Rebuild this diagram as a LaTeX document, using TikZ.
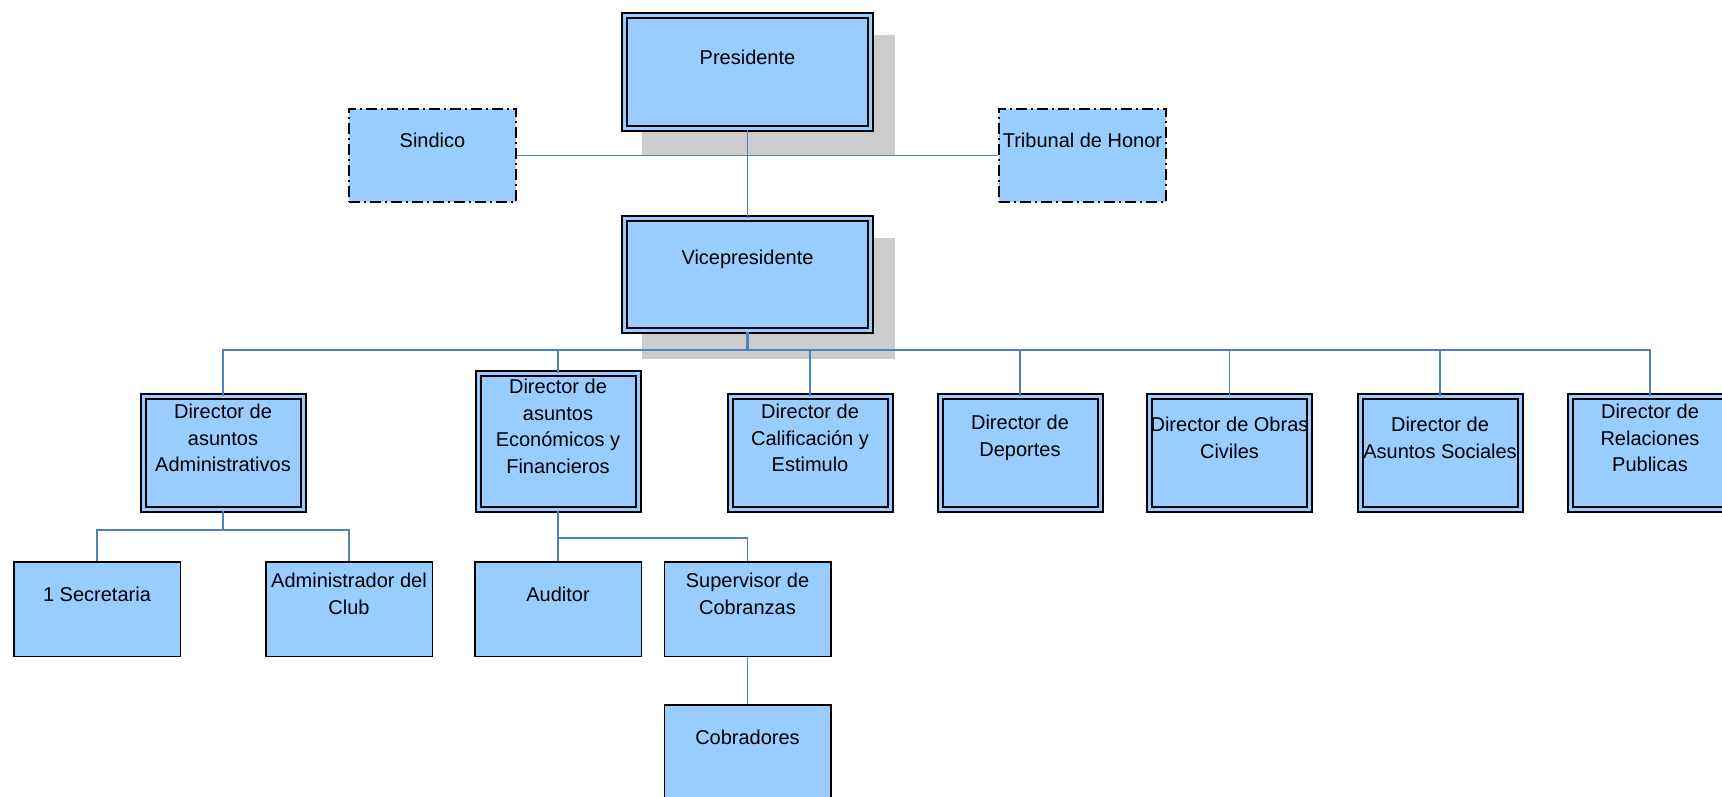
\documentclass[tikz,border=0pt]{standalone}
\usepackage{fontspec}
\setmainfont{Liberation Sans}
\definecolor{boxblue}{RGB}{153,204,255}
\definecolor{shadowgray}{RGB}{204,204,204}
\definecolor{linkblue}{RGB}{79,129,189}
\begin{document}
\begin{tikzpicture}[x=1pt,y=-1pt,
  every node/.style={font=\fontsize{20}{26.5}\selectfont},
  lbl/.style={yshift=15pt,align=center,inner sep=0pt},
  dbox/.style={draw=black,line width=2pt,double=boxblue,double distance=3pt,fill=boxblue,inner sep=0pt},
  sbox/.style={draw=black,line width=1.5pt,fill=boxblue,inner sep=0pt,minimum width=166.5pt,minimum height=94.5pt},
  ddbox/.style={draw=black,line width=1.8pt,dash pattern=on 11pt off 4pt on 2pt off 4pt,fill=boxblue,inner sep=0pt,minimum width=167pt,minimum height=93pt},
  dirbox/.style={dbox,minimum width=160pt,minimum height=113pt},
  link/.style={draw=linkblue,line width=1.5pt}]
\useasboundingbox (0,0) rectangle (1722,796);
% shadows
\fill[shadowgray] (642,35) rectangle (895,155);
\fill[shadowgray] (642,238) rectangle (895,359);
% top level
\node[dbox,minimum width=246pt,minimum height=113pt,label={[lbl]center:Presidente}] (pres) at (747.5,72) {};
\node[dbox,minimum width=246pt,minimum height=112pt,label={[lbl]center:Vicepresidente}] (vice) at (747.5,274.5) {};
\node[ddbox,label={[lbl]center:Sindico}] (sind) at (432.5,155.5) {};
\node[ddbox,label={[lbl]center:Tribunal de Honor}] (trib) at (1082.5,155.5) {};
% directors
\node[dirbox,label={[lbl]center:Director de\\asuntos\\Administrativos}] (dadm) at (223,453) {};
\node[dbox,minimum width=160pt,minimum height=136pt,label={[lbl]center:Director de\\asuntos\\Económicos y\\Financieros}] (deco) at (558,441.5) {};
\node[dirbox,label={[lbl]center:Director de\\Calificación y\\Estimulo}] (dcal) at (810,453) {};
\node[dirbox,label={[lbl]center:Director de\\Deportes}] (ddep) at (1020,453) {};
\node[dirbox,label={[lbl]center:Director de Obras\\Civiles}] (dobr) at (1229.5,453) {};
\node[dirbox,label={[lbl]center:Director de\\Asuntos Sociales}] (dsoc) at (1440,453) {};
\node[dirbox,label={[lbl]center:Director de\\Relaciones\\Publicas}] (drel) at (1650,453) {};
% third level
\node[sbox,label={[lbl]center:1 Secretaria}] (sec) at (97,609) {};
\node[sbox,label={[lbl]center:Administrador del\\Club}] (adm) at (349,609) {};
\node[sbox,label={[lbl]center:Auditor}] (aud) at (558,609) {};
\node[sbox,label={[lbl]center:Supervisor de\\Cobranzas}] (sup) at (747.5,609) {};
\node[sbox,label={[lbl]center:Cobradores}] (cob) at (747.5,752) {};
% connectors
\coordinate (bus) at (747.5,350);
\coordinate (ba) at (223,530);
\coordinate (be) at (558,538);
\path[link] (sind.east) -- (trib.west);
\path[link] (pres.south) -- (vice.north);
\path[link,line width=2.5pt] (vice.south) -- (bus);
\foreach \d in {dadm,deco,dcal,ddep,dobr,dsoc,drel}{\path[link] (bus) -| (\d.north);}
\path[link] (dadm.south) -- (ba);
\path[link] (ba) -| (sec.north);
\path[link] (ba) -| (adm.north);
\path[link] (deco.south) -- (aud.north);
\path[link] (be) -| (sup.north);
\path[link] (sup.south) -- (cob.north);
\end{tikzpicture}
\end{document}
